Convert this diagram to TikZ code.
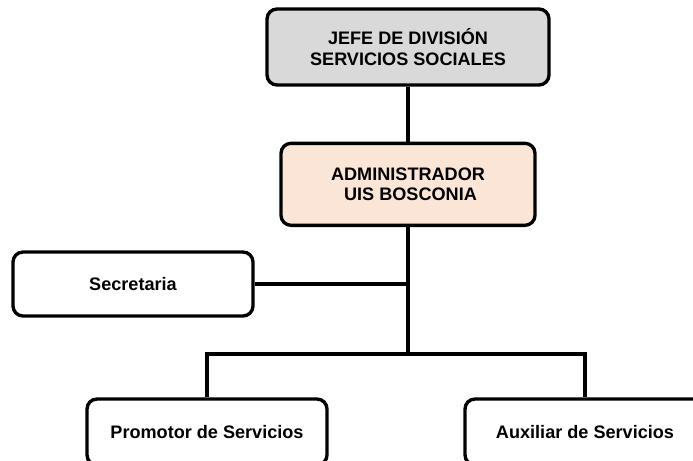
\documentclass[tikz,border=0pt]{standalone}
\usepackage{fontspec}
\setmainfont{Liberation Sans}
\usepackage{xcolor}
\usetikzlibrary{calc,positioning}
\definecolor{jefefill}{HTML}{D9D9D9}
\definecolor{adminfill}{HTML}{FBE5D6}
\tikzset{
  puesto/.style = {draw,line width=1.9pt,rounded corners=0.2cm,align=center,
    font=\fontsize{10.3}{11.8}\selectfont\bfseries,inner sep=0pt,fill=white},
  linea/.style = {line width=1.9pt}
}
\newlength{\vgap}
\setlength{\vgap}{1.1cm}

\begin{document}
\begin{tikzpicture}
\useasboundingbox (0,0) rectangle (13.86,9.2);
\clip (0,0) rectangle (13.86,9.2);

\node[puesto,fill=jefefill,minimum width=5.64cm,minimum height=1.52cm] (jefe) at (8.16,8.26)
  {JEFE DE DIVISIÓN\\SERVICIOS SOCIALES};

\node[puesto,fill=adminfill,minimum width=5.08cm,minimum height=1.64cm,below=\vgap of jefe] (admin)
  {ADMINISTRADOR\\\ UIS BOSCONIA};

\coordinate (rama) at (8.16,2.12);

\node[puesto,minimum width=4.8cm,minimum height=1.28cm] (sec) at (2.66,3.52) {Secretaria};

\node[puesto,minimum width=4.8cm,minimum height=1.32cm] (prom) at (4.14,0.56) {Promotor de Servicios};
\node[puesto,minimum width=4.8cm,minimum height=1.32cm] (aux) at (11.70,0.56) {Auxiliar de Servicios};

\draw[linea] (jefe.south) -- (admin.north);
\draw[linea] (admin.south) -- (rama);
\draw[linea] (sec.east) -- (sec.east -| rama);
\draw[linea] (prom.north) |- (rama) -| (aux.north);
\end{tikzpicture}
\end{document}
